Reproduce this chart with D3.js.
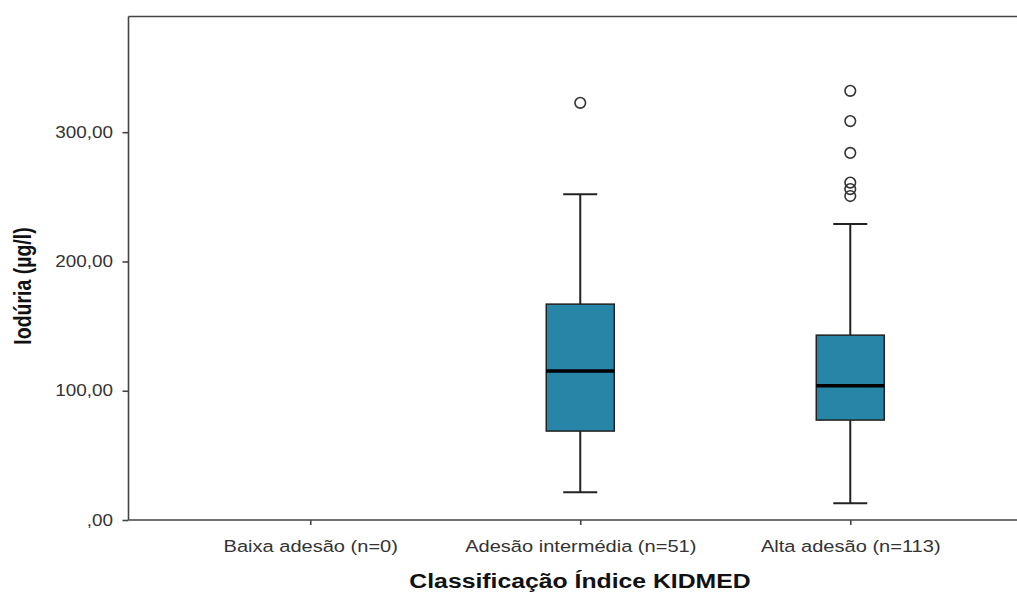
<!DOCTYPE html>
<html>
<head>
<meta charset="utf-8">
<script src="https://cdn.jsdelivr.net/npm/d3@7/dist/d3.min.js"></script>
<style>
  html, body { margin: 0; padding: 0; background: #fff; }
  svg { display: block; font-family: "Liberation Sans", Arial, sans-serif; }
</style>
</head>
<body>
<svg id="chart" width="1017" height="595"></svg>
<script>
// Groups of the KIDMED classification
const categories = ["Baixa adesão (n=0)", "Adesão intermédia (n=51)", "Alta adesão (n=113)"];
// Box statistics per group (null = no observations)
const whiskerLow = [null, 21.4, 12.9];
const q1 = [null, 68.8, 77.3];
const median = [null, 115.2, 103.9];
const q3 = [null, 167, 143];
const whiskerHigh = [null, 252, 229];
// Outliers per group
const outliers = [[], [322.7], [332, 308.6, 284, 261, 256, 250.6]];
// Y axis ticks
const yTicks = [0, 100, 200, 300];
const yTickLabels = [",00", "100,00", "200,00", "300,00"];

(function () {
  const svg = d3.select("#chart");
  const plotLeft = 128.5, plotTop = 16.5, plotBottom = 520, plotRight = 1032;
  const stretch = 1.18; // glyphs are drawn slightly wider than tall

  const x = d3.scalePoint().domain(categories).range([plotLeft, plotRight]).padding(0.673);
  const y = d3.scaleLinear().domain([0, 389.5]).range([plotBottom, plotTop]);

  const boxW = 68, capW = 34;
  const ink = "#222";
  const axisFont = "'Liberation Sans', Arial, sans-serif";

  // frame: top border
  svg.append("line").attr("x1", plotLeft).attr("x2", 1017).attr("y1", plotTop).attr("y2", plotTop)
    .attr("stroke", "#444").attr("stroke-width", 1.6);

  // y axis
  const yAxis = d3.axisLeft(y).tickValues(yTicks)
    .tickFormat((d, i) => yTickLabels[i]).tickSize(6).tickPadding(3);
  const gy = svg.append("g").attr("transform", `translate(${plotLeft},0)`).call(yAxis);
  gy.select(".domain").attr("stroke", "#444").attr("stroke-width", 1.6).attr("d", `M0,${plotTop}V${plotBottom}`);
  gy.selectAll(".tick line").attr("stroke", "#444").attr("stroke-width", 1.6);
  gy.selectAll(".tick text").attr("fill", "#333").style("font-size", "16px").style("font-family", axisFont)
    .attr("x", -15.5 / stretch).attr("transform", `scale(${stretch},1)`);

  // x axis
  const xAxis = d3.axisBottom(x).tickSize(5).tickPadding(15);
  const gx = svg.append("g").attr("transform", `translate(0,${plotBottom})`).call(xAxis);
  gx.select(".domain").attr("stroke", "#444").attr("stroke-width", 1.6).attr("d", `M${plotLeft},0H1017`);
  gx.selectAll(".tick line").attr("stroke", "#444").attr("stroke-width", 1.6);
  gx.selectAll(".tick text").attr("fill", "#333").style("font-size", "17px").style("font-family", axisFont)
    .attr("transform", `scale(${stretch},1)`);

  // boxes
  categories.forEach((c, i) => {
    if (median[i] === null) return;
    const cx = x(c);
    const g = svg.append("g");
    // whiskers
    g.append("line").attr("x1", cx).attr("x2", cx).attr("y1", y(whiskerHigh[i])).attr("y2", y(q3[i]))
      .attr("stroke", ink).attr("stroke-width", 2);
    g.append("line").attr("x1", cx).attr("x2", cx).attr("y1", y(q1[i])).attr("y2", y(whiskerLow[i]))
      .attr("stroke", ink).attr("stroke-width", 2);
    g.append("line").attr("x1", cx - capW / 2).attr("x2", cx + capW / 2)
      .attr("y1", y(whiskerHigh[i])).attr("y2", y(whiskerHigh[i])).attr("stroke", ink).attr("stroke-width", 2);
    g.append("line").attr("x1", cx - capW / 2).attr("x2", cx + capW / 2)
      .attr("y1", y(whiskerLow[i])).attr("y2", y(whiskerLow[i])).attr("stroke", ink).attr("stroke-width", 2);
    // box
    g.append("rect").attr("x", cx - boxW / 2).attr("width", boxW)
      .attr("y", y(q3[i])).attr("height", y(q1[i]) - y(q3[i]))
      .attr("fill", "#2786a7").attr("stroke", ink).attr("stroke-width", 1.5);
    // median
    g.append("line").attr("x1", cx - boxW / 2).attr("x2", cx + boxW / 2)
      .attr("y1", y(median[i])).attr("y2", y(median[i])).attr("stroke", "#000").attr("stroke-width", 3.5);
    // outliers
    g.selectAll("circle").data(outliers[i]).join("circle")
      .attr("cx", cx).attr("cy", d => y(d)).attr("r", 5.3)
      .attr("fill", "none").attr("stroke", "#333").attr("stroke-width", 1.6);
  });

  // axis titles
  svg.append("text").attr("transform", `translate(580,588) scale(${stretch},1)`).attr("text-anchor", "middle")
    .style("font-size", "21px").style("font-weight", "bold").attr("fill", "#111")
    .text("Classificação Índice KIDMED");
  svg.append("text").attr("transform", `translate(31,286) rotate(-90) scale(1,${stretch})`).attr("text-anchor", "middle")
    .style("font-size", "19.5px").style("font-weight", "bold").attr("fill", "#111")
    .text("Iodúria (µg/l)");
})();
</script>
</body>
</html>
